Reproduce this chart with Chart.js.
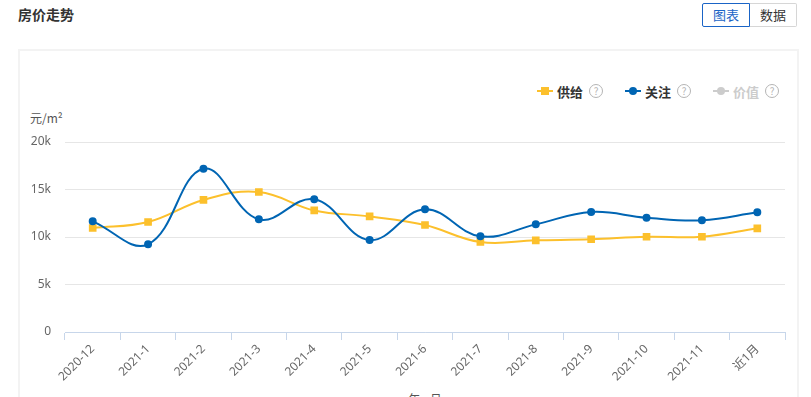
<!DOCTYPE html>
<html lang="zh">
<head>
    <meta charset="UTF-8">
    <title>房价走势</title>
    <script src="https://cdn.jsdelivr.net/npm/chart.js@4.4.0/dist/chart.umd.min.js"></script>
    <style>
        html, body {
            margin: 0;
            padding: 0;
            width: 811px;
            height: 397px;
            overflow: hidden;
            background: #ffffff;
            font-family: "Noto Sans CJK SC", "Noto Sans", sans-serif;
        }
        .title {
            position: absolute;
            left: 18px;
            top: 4px;
            font-size: 14px;
            font-weight: bold;
            color: #333;
        }
        .btns {
            position: absolute;
            left: 702px;
            top: 3px;
            display: flex;
        }
        .btn {
            width: 46px;
            height: 22px;
            line-height: 22px;
            text-align: center;
            font-size: 13px;
            border: 1px solid #d6d6d6;
            color: #333;
            box-sizing: content-box;
        }
        .btn.active {
            border-color: #1a64c6;
            color: #1a64c6;
            border-radius: 2px 0 0 2px;
        }
        .btn + .btn {
            border-left: none;
            border-radius: 0 2px 2px 0;
        }
        .card {
            position: absolute;
            left: 18px;
            top: 49px;
            width: 777px;
            height: 400px;
            border: 2px solid #f3f3f3;
        }
        .legend {
            position: absolute;
            top: 82px;
            left: 537px;
            display: flex;
            font-size: 13px;
            font-weight: bold;
            color: #333;
        }
        .legend .item {
            display: flex;
            align-items: center;
            margin-right: 22px;
            height: 18px;
        }
        .legend .mark {
            position: relative;
            width: 16px;
            height: 2px;
            margin-right: 4px;
        }
        .legend .mark i {
            position: absolute;
            left: 4px;
            top: -3px;
            width: 8px;
            height: 8px;
        }
        .legend .q {
            width: 12px;
            height: 12px;
            border: 1px solid #b5b5b5;
            border-radius: 50%;
            color: #b5b5b5;
            font-size: 10px;
            font-weight: normal;
            line-height: 12px;
            text-align: center;
            margin-left: 6px;
        }
        .ytitle {
            position: absolute;
            left: 30px;
            top: 109px;
            font-size: 12px;
            color: #555;
        }
        .xtitle {
            position: absolute;
            left: 325px;
            width: 200px;
            top: 390px;
            text-align: center;
            font-size: 12px;
            color: #555;
        }
        .chart-box {
            position: absolute;
            left: 20px;
            top: 100px;
            width: 776px;
            height: 310px;
        }
    </style>
</head>
<body>
    <div class="title">房价走势</div>
    <div class="btns">
        <div class="btn active">图表</div>
        <div class="btn">数据</div>
    </div>
    <div class="card"></div>

    <!-- legend -->
    <div class="legend">
        <div class="item">
            <span class="mark" style="background:#fcc02c"><i style="background:#fcc02c"></i></span>供给<span class="q">?</span>
        </div>
        <div class="item">
            <span class="mark" style="background:#0065b3"><i style="background:#0065b3;border-radius:50%"></i></span>关注<span class="q">?</span>
        </div>
        <div class="item" style="color:#ccc">
            <span class="mark" style="background:#ccc"><i style="background:#ccc;border-radius:50%"></i></span>价值<span class="q">?</span>
        </div>
    </div>

    <div class="ytitle">元/m²</div>
    <div class="xtitle">年 - 月</div>

    <div class="chart-box">
        <canvas id="priceChart"></canvas>
    </div>

    <script>
        // data
        const months = ['2020-12', '2021-1', '2021-2', '2021-3', '2021-4', '2021-5', '2021-6',
                        '2021-7', '2021-8', '2021-9', '2021-10', '2021-11', '近1月'];
        const supply = [10950, 11580, 13900, 14740, 12800, 12170, 11260, 9470, 9650, 9760, 10030, 10030, 10910];
        const attention = [11650, 9230, 17190, 11860, 13970, 9680, 12910, 10070, 11330, 12630, 12030, 11760, 12600];
        const yTicks = [0, 5000, 10000, 15000, 20000];

        const tickFont = { family: '"Noto Sans", "Noto Sans CJK SC", sans-serif', size: 12 };

        var ctx = document.getElementById('priceChart').getContext('2d');
        var priceChart = new Chart(ctx, {
            type: 'line',
            data: {
                labels: months,
                datasets: [{
                    label: '关注',
                    data: attention,
                    borderColor: '#0065b3',
                    backgroundColor: '#0065b3',
                    borderWidth: 2,
                    tension: 0.4,
                    pointStyle: 'circle',
                    pointRadius: 3,
                    pointHoverRadius: 4,
                    fill: false
                }, {
                    label: '供给',
                    data: supply,
                    borderColor: '#fcc02c',
                    backgroundColor: '#fcc02c',
                    borderWidth: 2,
                    tension: 0.4,
                    pointStyle: 'rect',
                    pointRadius: 4,
                    pointHoverRadius: 4,
                    fill: false
                }]
            },
            options: {
                responsive: true,
                maintainAspectRatio: false,
                animation: false,
                layout: { padding: { top: 42, right: 11, left: 0, bottom: 0 } },
                plugins: {
                    legend: { display: false },
                    tooltip: { enabled: false }
                },
                scales: {
                    x: {
                        offset: true,
                        grid: {
                            offset: true,
                            drawOnChartArea: false,
                            color: '#c7d6ea',
                            tickLength: 8
                        },
                        border: { color: '#c7d6ea' },
                        ticks: {
                            autoSkip: false,
                            minRotation: 45,
                            maxRotation: 45,
                            color: '#666',
                            font: tickFont,
                            padding: 2
                        },
                        afterFit: function(scale) { scale.height = 78; }
                    },
                    y: {
                        min: 0,
                        max: 20000,
                        afterBuildTicks: function(scale) {
                            scale.ticks = yTicks.map(v => ({ value: v }));
                        },
                        grid: { color: '#e6e6e6', drawTicks: false },
                        border: { display: false },
                        ticks: {
                            color: '#666',
                            font: tickFont,
                            padding: 14,
                            callback: v => v === 0 ? '0' : (v / 1000) + 'k'
                        },
                        afterFit: function(scale) { scale.width = 45; }
                    }
                }
            }
        });
    </script>
</body>
</html>
